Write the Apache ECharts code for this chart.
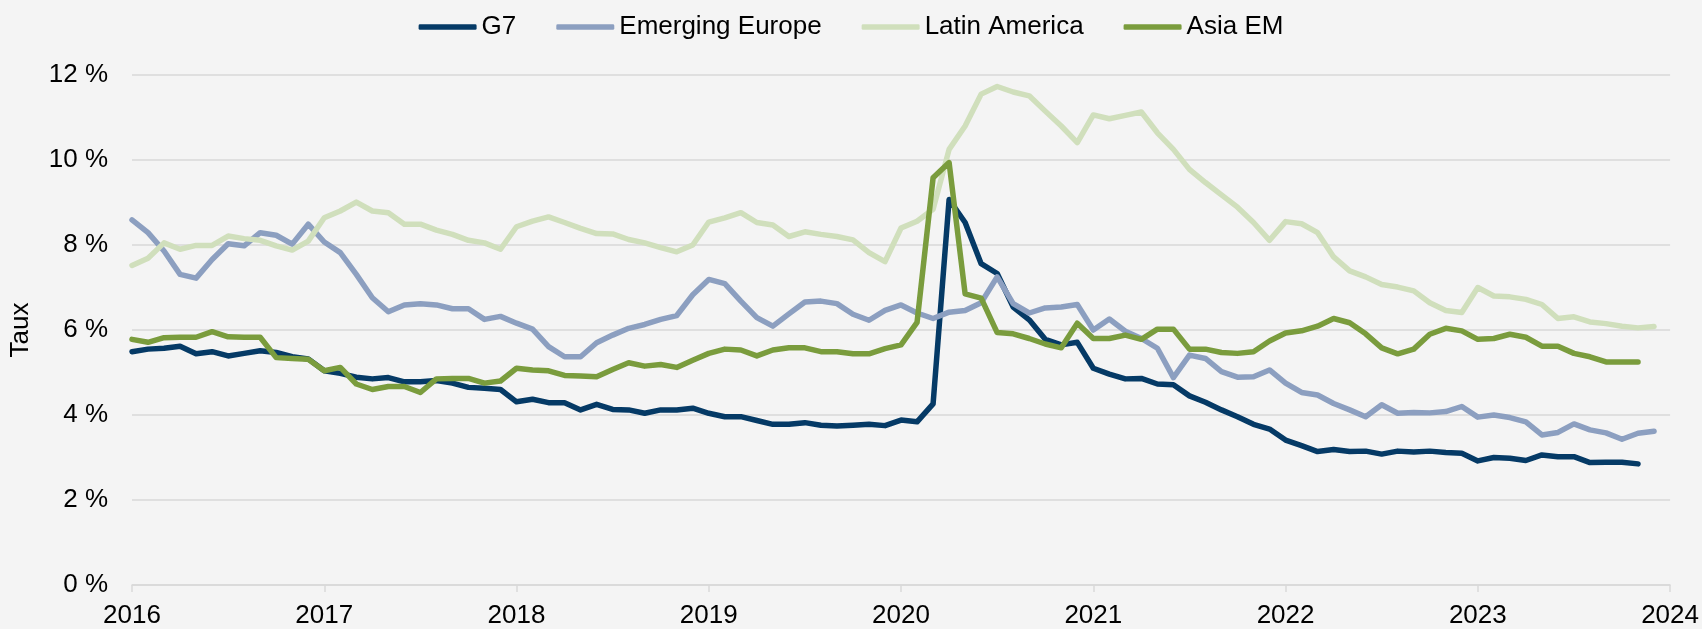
<!DOCTYPE html>
<html>
<head>
<meta charset="utf-8">
<script src="https://cdn.jsdelivr.net/npm/echarts@6/dist/echarts.min.js"></script>
<style>
html,body{margin:0;padding:0;background:#F4F4F4;}
#chart{width:1702px;height:629px;}
</style>
</head>
<body>
<div id="chart"></div>
<script>
// Monthly categories Jan 2016 .. Jan 2024
const years = [2016, 2017, 2018, 2019, 2020, 2021, 2022, 2023];
const months = [];
years.forEach(y => { for (let m = 1; m <= 12; m++) months.push(y + '-' + (m < 10 ? '0' + m : m)); });
months.push('2024-01');

const yTicks = [0, 2, 4, 6, 8, 10, 12];

const g7 = [
  5.49, 5.55, 5.57, 5.62, 5.44, 5.49, 5.39, 5.45, 5.51, 5.47, 5.37, 5.32,
  5.04, 4.98, 4.89, 4.85, 4.88, 4.78, 4.78, 4.81, 4.75, 4.65, 4.63, 4.60,
  4.31, 4.37, 4.29, 4.29, 4.12, 4.25, 4.13, 4.12, 4.04, 4.12, 4.12, 4.16,
  4.04, 3.96, 3.96, 3.87, 3.78, 3.78, 3.82, 3.76, 3.74, 3.76, 3.78, 3.75,
  3.88, 3.84, 4.26, 9.07, 8.53, 7.56, 7.33, 6.54, 6.24, 5.78, 5.65, 5.71,
  5.10, 4.96, 4.85, 4.86, 4.73, 4.71, 4.45, 4.30, 4.12, 3.96, 3.78, 3.67,
  3.41, 3.28, 3.14, 3.19, 3.14, 3.15, 3.08, 3.15, 3.13, 3.15, 3.12, 3.10,
  2.92, 3.00, 2.98, 2.93, 3.06, 3.02, 3.02, 2.88, 2.89, 2.89, 2.85, null
];
const emergingEurope = [
  8.59, 8.29, 7.86, 7.31, 7.22, 7.66, 8.03, 7.98, 8.29, 8.23, 8.02, 8.49,
  8.07, 7.82, 7.31, 6.76, 6.43, 6.59, 6.62, 6.59, 6.50, 6.50, 6.25, 6.32,
  6.16, 6.02, 5.61, 5.37, 5.37, 5.70, 5.88, 6.04, 6.13, 6.25, 6.34, 6.83,
  7.19, 7.09, 6.68, 6.29, 6.09, 6.38, 6.66, 6.68, 6.62, 6.37, 6.23, 6.46,
  6.59, 6.40, 6.27, 6.42, 6.46, 6.64, 7.25, 6.62, 6.40, 6.52, 6.54, 6.60,
  6.00, 6.26, 5.97, 5.80, 5.57, 4.88, 5.41, 5.33, 5.02, 4.89, 4.90, 5.06,
  4.75, 4.53, 4.47, 4.27, 4.12, 3.96, 4.24, 4.04, 4.06, 4.05, 4.08, 4.20,
  3.95, 4.00, 3.94, 3.84, 3.53, 3.59, 3.79, 3.65, 3.58, 3.43, 3.57, 3.62
];
const latinAmerica = [
  7.52, 7.69, 8.05, 7.90, 7.99, 7.99, 8.21, 8.15, 8.11, 7.98, 7.88, 8.09,
  8.64, 8.80, 9.01, 8.80, 8.76, 8.49, 8.49, 8.35, 8.25, 8.11, 8.05, 7.90,
  8.43, 8.56, 8.66, 8.53, 8.39, 8.27, 8.26, 8.13, 8.05, 7.94, 7.84, 8.00,
  8.54, 8.64, 8.76, 8.53, 8.47, 8.20, 8.31, 8.25, 8.20, 8.12, 7.82, 7.61,
  8.40, 8.56, 8.84, 10.25, 10.80, 11.55, 11.73, 11.60, 11.51, 11.15, 10.80, 10.41,
  11.06, 10.97, 11.05, 11.13, 10.64, 10.25, 9.78, 9.47, 9.18, 8.89, 8.53, 8.11,
  8.55, 8.50, 8.29, 7.72, 7.39, 7.25, 7.07, 7.01, 6.92, 6.64, 6.46, 6.41,
  7.00, 6.80, 6.78, 6.72, 6.60, 6.27, 6.31, 6.19, 6.15, 6.09, 6.05, 6.08
];
const asiaEM = [
  5.78, 5.71, 5.82, 5.83, 5.83, 5.96, 5.84, 5.83, 5.83, 5.35, 5.33, 5.31,
  5.04, 5.12, 4.73, 4.60, 4.67, 4.67, 4.53, 4.85, 4.86, 4.86, 4.75, 4.80,
  5.10, 5.06, 5.04, 4.93, 4.92, 4.90, 5.07, 5.23, 5.15, 5.19, 5.12, 5.29,
  5.45, 5.55, 5.53, 5.39, 5.53, 5.58, 5.58, 5.49, 5.49, 5.44, 5.44, 5.56,
  5.65, 6.18, 9.58, 9.94, 6.85, 6.75, 5.94, 5.91, 5.80, 5.67, 5.58, 6.16,
  5.80, 5.80, 5.88, 5.78, 6.02, 6.02, 5.55, 5.55, 5.47, 5.45, 5.49, 5.74,
  5.93, 5.98, 6.09, 6.27, 6.17, 5.91, 5.58, 5.44, 5.55, 5.90, 6.04, 5.98,
  5.78, 5.80, 5.90, 5.83, 5.62, 5.62, 5.45, 5.37, 5.25, 5.25, 5.25, null
];

const seriesNames = ['G7', 'Emerging Europe', 'Latin America', 'Asia EM'];
const seriesColors = ['#053A66', '#8C9FC0', '#D0DFBC', '#7A9C3D'];
const seriesData = [g7, emergingEurope, latinAmerica, asiaEM];

const FONT = '"Liberation Sans", Arial, sans-serif';
const yearIdx = (i) => i % 12 === 0;

const chart = echarts.init(document.getElementById('chart'), null, {renderer: 'canvas'});
chart.setOption({
  backgroundColor: '#F4F4F4',
  animation: false,
  textStyle: {fontFamily: FONT},
  legend: {
    top: 9,
    left: 'center',
    icon: 'roundRect',
    itemWidth: 58,
    itemHeight: 5.5,
    itemGap: 40,
    textStyle: {fontSize: 26, color: '#000', fontFamily: FONT},
    data: seriesNames
  },
  grid: {left: 131, right: 31, top: 75, bottom: 44, containLabel: false},
  xAxis: {
    type: 'category',
    data: months,
    boundaryGap: false,
    axisLine: {show: true, lineStyle: {color: '#D9D9D9', width: 1.5}},
    axisTick: {show: true, interval: (i) => yearIdx(i), length: 7, lineStyle: {color: '#D9D9D9', width: 1.5}},
    axisLabel: {
      interval: (i) => yearIdx(i),
      formatter: (v) => v.slice(0, 4),
      fontSize: 26, color: '#000', fontFamily: FONT, margin: 18,
      showMinLabel: true, showMaxLabel: true
    },
    splitLine: {show: false}
  },
  yAxis: {
    type: 'value',
    min: yTicks[0],
    max: yTicks[yTicks.length - 1],
    interval: 2,
    name: 'Taux',
    nameLocation: 'middle',
    nameRotate: 90,
    nameGap: 98,
    nameTextStyle: {fontSize: 26, color: '#000', fontFamily: FONT},
    axisLine: {show: false},
    axisTick: {show: false},
    axisLabel: {formatter: '{value} %', fontSize: 26, color: '#000', fontFamily: FONT, margin: 24},
    splitLine: {lineStyle: {color: '#D9D9D9', width: 1.5}}
  },
  series: seriesNames.map((n, k) => ({
    name: n,
    type: 'line',
    data: seriesData[k],
    symbol: 'none',
    connectNulls: false,
    color: seriesColors[k],
    lineStyle: {width: 5.5, color: seriesColors[k], cap: 'round', join: 'round'},
    itemStyle: {color: seriesColors[k]}
  }))
});
</script>
</body>
</html>
